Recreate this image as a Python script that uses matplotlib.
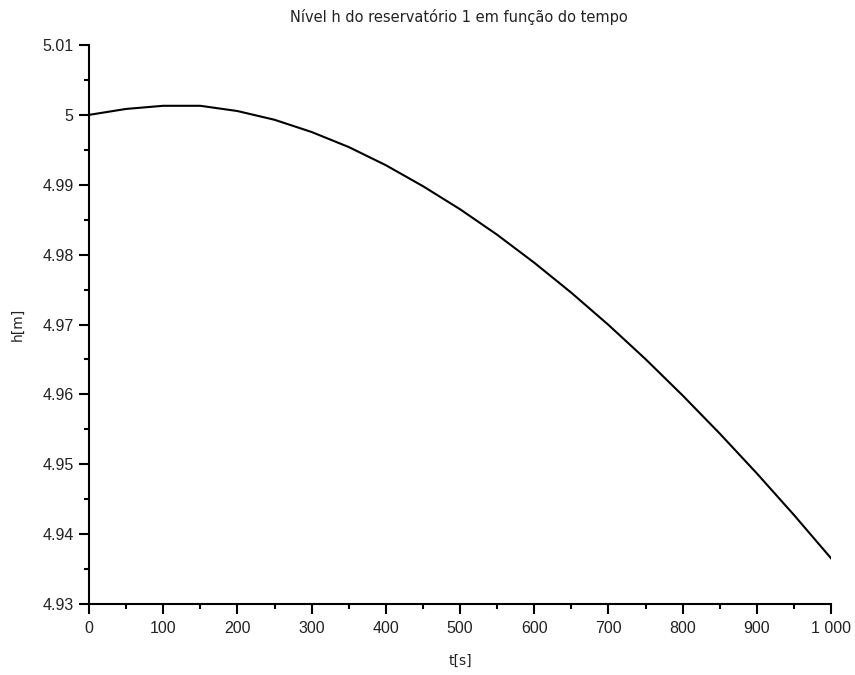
import matplotlib
matplotlib.use("Agg")
import matplotlib.pyplot as plt
from matplotlib.ticker import MultipleLocator, FixedLocator, FixedFormatter

t = [0, 50, 100, 150, 200, 250, 300, 350, 400, 450, 500,
     550, 600, 650, 700, 750, 800, 850, 900, 950, 1000]
h = [5.0000, 5.00085, 5.0013, 5.0013, 5.00055, 4.9993, 4.99755, 4.9954, 4.9928, 4.9898, 4.9865,
     4.98285, 4.97885, 4.97455, 4.96995, 4.96505, 4.95985, 4.9544, 4.9487, 4.94275, 4.93655]

xticks = [0, 100, 200, 300, 400, 500, 600, 700, 800, 900, 1000]
xticklabels = ["0", "100", "200", "300", "400", "500", "600", "700", "800", "900", "1 000"]
yticks = [4.93, 4.94, 4.95, 4.96, 4.97, 4.98, 4.99, 5.0, 5.01]
yticklabels = ["4.93", "4.94", "4.95", "4.96", "4.97", "4.98", "4.99", "5", "5.01"]

title = "Nível h do reservatório 1 em função do tempo"

fig = plt.figure(figsize=(8.55, 6.75), dpi=100)
ax = fig.add_axes([89/855, 71/675, (831-89)/855, (604-45)/675])

ax.plot(t, h, color="black", linewidth=1.5)
ax.set_xlim(0, 1000)
ax.set_ylim(4.93, 5.01)

for s in ["top", "right"]:
    ax.spines[s].set_visible(False)
for s in ["left", "bottom"]:
    ax.spines[s].set_linewidth(1.5)

ax.xaxis.set_major_locator(FixedLocator(xticks))
ax.xaxis.set_major_formatter(FixedFormatter(xticklabels))
ax.yaxis.set_major_locator(FixedLocator(yticks))
ax.yaxis.set_major_formatter(FixedFormatter(yticklabels))
ax.xaxis.set_minor_locator(MultipleLocator(50))
ax.yaxis.set_minor_locator(MultipleLocator(0.005))

ax.tick_params(which="major", direction="out", length=7, width=1.5,
               labelsize=11.5)
ax.tick_params(axis="x", which="major", pad=5)
ax.tick_params(axis="y", which="major", pad=4)
ax.tick_params(which="minor", direction="out", length=3.5, width=1.5)
for lab in ax.get_xticklabels() + ax.get_yticklabels():
    lab.set_family("Liberation Sans")
    lab.set_color("#222222")

ax.set_xlabel("t[s]", fontsize=10, family="DejaVu Sans", labelpad=13, color="#222222")
ax.set_ylabel("h[m]", fontsize=10, family="DejaVu Sans", labelpad=13, color="#222222")
fig.text(0.537, 0.975, title, ha="center", va="center", fontsize=10.5,
         family="DejaVu Sans", color="#222222")

fig.savefig("out.png", dpi=100)
